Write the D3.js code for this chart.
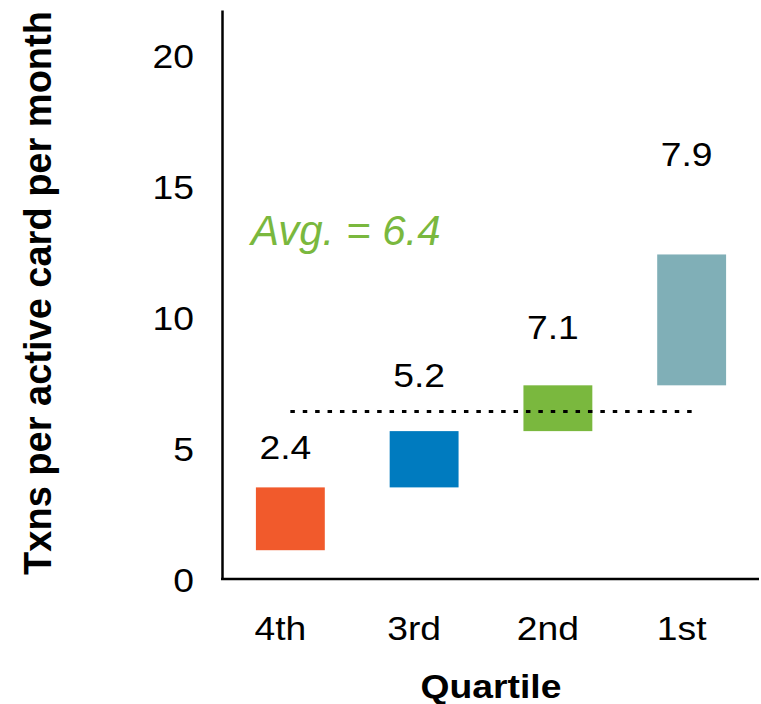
<!DOCTYPE html>
<html>
<head>
<meta charset="utf-8">
<script src="https://cdn.jsdelivr.net/npm/d3@7"></script>
<style>
  html, body { margin: 0; padding: 0; background: #fff; }
  svg { display: block; font-family: "Liberation Sans", Arial, sans-serif; }
</style>
</head>
<body>
<svg id="chart" width="761" height="704"></svg>
<script>
// Quartiles, floating bar ranges and the value shown above each bar
const quartiles = ["4th", "3rd", "2nd", "1st"];
const barLow    = [1.1, 3.5, 5.65, 7.4];
const barHigh   = [3.5, 5.65, 7.4, 12.4];
const barLabels = ["2.4", "5.2", "7.1", "7.9"];
const barColors = ["#f15a2c", "#007bbf", "#7ab83e", "#80afb7"];
const average   = 6.4;
const yTicks    = [0, 5, 10, 15, 20];
const yTitle    = "Txns per active card per month";
const xTitle    = "Quartile";
const avgText   = "Avg. = 6.4";

// Layout
const plotLeft = 222, plotRight = 759, plotTop = 10, plotBottom = 579;
const stretch = 1.13;               // text is drawn slightly wide
const labelLift = [28, 44, 46, 88]; // gap from bar top to value label baseline

const svg = d3.select("#chart");

const x = d3.scaleBand()
  .domain(quartiles)
  .range([plotLeft + 1, plotRight])
  .paddingInner(0.485)
  .paddingOuter(0.246);

const y = d3.scaleLinear()
  .domain([0, 21.74])
  .range([plotBottom, plotTop]);

const data = quartiles.map((q, i) => ({
  q, low: barLow[i], high: barHigh[i], label: barLabels[i], color: barColors[i], lift: labelLift[i]
}));

// Bars
svg.append("g").selectAll("rect")
  .data(data)
  .join("rect")
  .attr("x", d => x(d.q))
  .attr("width", x.bandwidth())
  .attr("y", d => y(d.high))
  .attr("height", d => y(d.low) - y(d.high))
  .attr("fill", d => d.color);

// Average reference line
svg.append("line")
  .attr("x1", x(quartiles[0]) + x.bandwidth() / 2)
  .attr("x2", x(quartiles[quartiles.length - 1]) + x.bandwidth() / 2)
  .attr("y1", y(average))
  .attr("y2", y(average))
  .attr("stroke", "#000")
  .attr("stroke-width", 3)
  .attr("stroke-dasharray", "4.5 7.9");

// Value labels above bars
svg.append("g").selectAll("text")
  .data(data)
  .join("text")
  .attr("transform", d => `translate(${x(d.q) + x.bandwidth() / 2 - 5},${y(d.high) - d.lift}) scale(${stretch},1)`)
  .attr("text-anchor", "middle")
  .attr("font-size", 33)
  .attr("fill", "#000")
  .text(d => d.label);

// Y axis
const yAxis = svg.append("g")
  .attr("transform", `translate(${plotLeft},0)`)
  .call(d3.axisLeft(y).tickValues(yTicks).tickSize(0).tickSizeOuter(0).tickFormat(d3.format("d")));
yAxis.select(".domain").attr("stroke", "#000").attr("stroke-width", 2.5);
yAxis.selectAll(".tick text")
  .attr("x", null)
  .attr("dy", null)
  .attr("transform", `translate(-28,12) scale(${stretch},1)`)
  .attr("font-size", 33)
  .attr("font-family", "Liberation Sans, Arial, sans-serif")
  .attr("fill", "#000");

// X axis
const xAxis = svg.append("g")
  .attr("transform", `translate(0,${plotBottom})`)
  .call(d3.axisBottom(x).tickSize(0).tickSizeOuter(0));
xAxis.select(".domain").attr("stroke", "#000").attr("stroke-width", 2.5)
  .attr("d", `M${plotLeft - 1},0H${plotRight}`);
xAxis.selectAll(".tick text")
  .attr("y", null)
  .attr("dy", null)
  .attr("transform", `translate(-10,61) scale(${stretch},1)`)
  .attr("font-size", 33)
  .attr("font-family", "Liberation Sans, Arial, sans-serif")
  .attr("fill", "#000");

// Axis titles
svg.append("text")
  .attr("transform", `translate(491,698) scale(${stretch},1)`)
  .attr("text-anchor", "middle")
  .attr("font-size", 33)
  .attr("font-weight", "bold")
  .text(xTitle);

svg.append("text")
  .attr("transform", "translate(51,293) rotate(-90)")
  .attr("text-anchor", "middle")
  .attr("font-size", 38)
  .attr("font-weight", "bold")
  .text(yTitle);

// Average annotation
svg.append("text")
  .attr("x", 251)
  .attr("y", 245)
  .attr("font-size", 42)
  .attr("font-style", "italic")
  .attr("fill", "#7ab83e")
  .text(avgText);
</script>
</body>
</html>
